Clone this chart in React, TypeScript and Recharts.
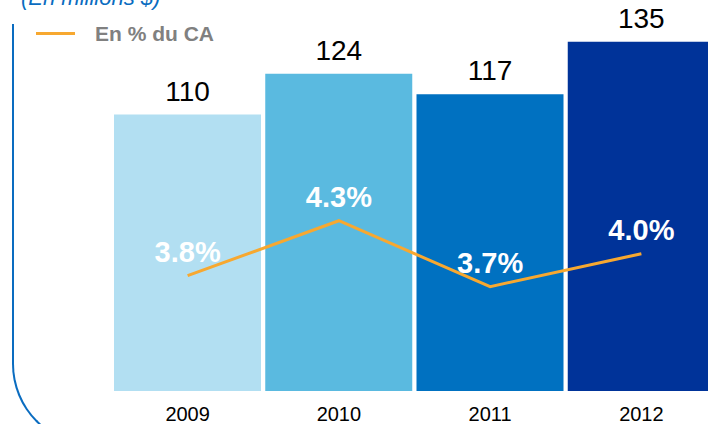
import React from "react";
import {
  ComposedChart,
  Bar,
  Line,
  XAxis,
  YAxis,
  Cell,
  LabelList,
} from "recharts";

const years = ["2009", "2010", "2011", "2012"];
const amounts = [110, 124, 117, 135];
const pctOfRevenue = [3.8, 4.3, 3.7, 4.0];
const barColors = ["#B2DFF2", "#5ABAE0", "#0071C1", "#003399"];

const data = years.map((year, i) => ({
  year,
  amount: amounts[i],
  pct: pctOfRevenue[i],
}));

const FONT = "'Liberation Sans', Arial, sans-serif";

export default function App() {
  return (
    <div
      style={{
        position: "fixed",
        left: 0,
        top: 0,
        width: 708,
        height: 424,
        overflow: "hidden",
        background: "#fff",
        fontFamily: FONT,
      }}
    >
      {/* rounded frame on the left */}
      <div
        style={{
          position: "absolute",
          left: 12,
          top: 24,
          width: 800,
          height: 420,
          borderLeft: "2px solid #0A6CC0",
          borderBottom: "2px solid #0A6CC0",
          borderBottomLeftRadius: 82,
        }}
      />
      {/* unit title, cut at the top */}
      <div
        style={{
          position: "absolute",
          left: 21,
          top: -13,
          fontSize: 22,
          lineHeight: "22px",
          fontStyle: "italic",
          color: "#0A6CC0",
          whiteSpace: "nowrap",
        }}
      >
        (En millions $)
      </div>
      {/* legend */}
      <div
        style={{
          position: "absolute",
          left: 36,
          top: 32,
          width: 39,
          height: 3,
          background: "#F7A830",
        }}
      />
      <div
        style={{
          position: "absolute",
          left: 95,
          top: 22,
          fontSize: 21,
          lineHeight: "24px",
          fontWeight: "bold",
          color: "#808080",
          whiteSpace: "nowrap",
        }}
      >
        En % du CA
      </div>
      <div style={{ position: "absolute", left: 0, top: 0 }}>
        <ComposedChart
          width={720}
          height={424}
          data={data}
          margin={{ top: 1, right: 3, bottom: 0, left: 112 }}
          barCategoryGap={2}
        >
          <XAxis
            dataKey="year"
            axisLine={false}
            tickLine={false}
            height={33}
            tickMargin={10}
            tick={{ fill: "#000", fontSize: 20, fontFamily: FONT }}
          />
          <YAxis yAxisId="amt" hide domain={[15, 149]} />
          <YAxis yAxisId="pct" hide domain={[2.75, 6.3]} />
          <Bar yAxisId="amt" dataKey="amount" isAnimationActive={false}>
            {data.map((d, i) => (
              <Cell key={d.year} fill={barColors[i]} />
            ))}
            <LabelList
              dataKey="amount"
              position="top"
              offset={14}
              fill="#000"
              fontSize={28}
              fontFamily={FONT}
            />
          </Bar>
          <Line
            yAxisId="pct"
            dataKey="pct"
            stroke="#F7A830"
            strokeWidth={3}
            dot={false}
            isAnimationActive={false}
          >
            <LabelList
              dataKey="pct"
              position="top"
              offset={14}
              fill="#fff"
              fontSize={29}
              fontWeight="bold"
              fontFamily={FONT}
              formatter={(v: number) => `${v.toFixed(1)}%`}
            />
          </Line>
        </ComposedChart>
      </div>
    </div>
  );
}
